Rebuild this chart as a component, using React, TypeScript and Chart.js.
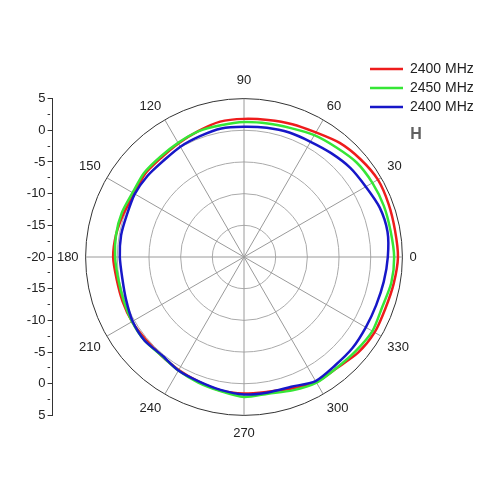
import { useEffect, useRef } from "react"
import { Chart, registerables } from "chart.js"

Chart.register(...registerables)
Chart.defaults.font.family = '"Liberation Sans", Arial, sans-serif'

// angle of each reading, degrees counter-clockwise from the right
const angles = [0, 10, 20, 30, 40, 50, 60, 70, 80, 90, 100, 110, 120, 130, 140, 150, 160, 170,
  180, 190, 200, 210, 220, 230, 240, 250, 260, 270, 280, 290, 300, 310, 320, 330, 340, 350]

// gain readings (dB), same order as angles
const red2400 = [4.3, 4.2, 4.3, 4.4, 4.0, 3.5, 2.7, 2.3, 1.95, 1.8, 1.7, 1.15, 0.7, 0.4, 0.4, 0.0, 0.2, 0.5,
  0.65, 0.4, 0.4, 0.4, 0.25, 0.3, 0.6, 0.95, 1.4, 1.55, 1.6, 2.1, 2.8, 2.85, 3.5, 3.8, 3.75, 4.0]
const green2450 = [3.7, 3.5, 3.5, 3.4, 3.2, 2.6, 2.2, 1.65, 1.4, 1.3, 1.1, 1.1, 0.8, 0.6, 0.6, 0.3, 0.5, 0.5,
  0.35, 0.15, 0.2, 0.4, 0.5, 0.3, 0.7, 1.1, 1.5, 2.1, 1.9, 2.4, 2.9, 2.8, 3.05, 3.4, 3.2, 3.6]
const blue2400 = [2.7, 3.0, 2.8, 2.2, 1.9, 1.4, 1.0, 0.9, 0.7, 0.55, 0.6, 0.3, 0.1, -0.2, -0.1, -0.1, -0.35, -0.3,
  -0.4, -0.5, -0.2, 0.3, 0.5, 0.2, 0.7, 0.9, 1.3, 1.7, 1.7, 1.8, 2.6, 2.35, 2.35, 2.2, 2.2, 2.4]

const seriesNames = ["2400 MHz", "2450 MHz", "2400 MHz"]
const seriesColors = ["#ee1c1c", "#36e636", "#1717c8"]
const labelStep = 30 // angles that get a spoke and a label
const radialMin = -20
const radialMax = 5
const planeMark = "H"

// the side axis is mirrored: -20 sits at the centre, 5 at both ends
const sideMin = radialMin - (radialMax - radialMin)
const sideMax = radialMax

export default function App() {
  const canvasRef = useRef<HTMLCanvasElement>(null)

  useEffect(() => {
    document.body.style.margin = "0"
    const canvas = canvasRef.current
    if (!canvas) return

    // radar goes clockwise, so run 0, 350, 340 ... 10
    const order = [0, ...angles.slice(1).map((_, i) => angles.length - 1 - i)]
    const pick = (values: number[]) => order.map((i) => values[i])
    const angleAt = (index: number) => angles[order[index]]

    const placePlugin = {
      id: "place",
      afterLayout(chart: any) {
        const r = chart.scales.r
        const y = chart.scales.y
        // stretch the side axis over the diameter of the plot
        y.top = r.yCenter - r.drawingArea
        y.bottom = r.yCenter + r.drawingArea
        y.height = y.bottom - y.top
        y.right = r.xCenter - r.drawingArea - 33
        y.left = y.right - y.width
        y.configure()
        y._gridLineItems = null
        y._labelItems = null
      },
      beforeDraw(chart: any) {
        const legend = chart.legend
        legend.left = 365
        legend.top = 57
        legend.right = 500
        legend.bottom = 200
        legend.width = legend.right - legend.left
        legend.height = legend.bottom - legend.top
      },
      afterDraw(chart: any) {
        const { ctx } = chart
        ctx.save()
        ctx.font = 'bold 16px "Liberation Sans", Arial, sans-serif'
        ctx.fillStyle = "#606060"
        ctx.textAlign = "center"
        ctx.textBaseline = "middle"
        ctx.fillText(planeMark, 416, 135)
        ctx.restore()
      },
    }

    const series = [red2400, green2450, blue2400]

    const chart = new Chart(canvas, {
      type: "radar",
      data: {
        labels: order.map((i) => String(angles[i])),
        datasets: series.map((values, k) => ({
          label: seriesNames[k],
          data: pick(values),
          borderColor: seriesColors[k],
          backgroundColor: seriesColors[k],
          borderWidth: 2.5,
          pointRadius: 0,
          pointHoverRadius: 0,
          fill: false,
          tension: 0.25,
          order: series.length - k,
        })),
      },
      options: {
        animation: false,
        responsive: false,
        events: [],
        layout: { padding: { top: 74, bottom: 58, left: 0, right: 75 } },
        scales: {
          r: {
            min: radialMin,
            max: radialMax,
            startAngle: 90,
            ticks: { display: false, stepSize: 5 },
            grid: {
              circular: true,
              color: (ctx: any) => (ctx.tick && ctx.tick.value === radialMax ? "#333333" : "#aaaaaa"),
              lineWidth: 1,
            },
            angleLines: {
              color: (ctx: any) => (angleAt(ctx.index) % labelStep === 0 ? "#9a9a9a" : "transparent"),
              lineWidth: 1,
            },
            pointLabels: {
              callback: (label: string, index: number) => (angleAt(index) % labelStep === 0 ? label : ""),
              padding: (ctx: any) => (angleAt(ctx.index) === 90 || angleAt(ctx.index) === 270 ? 10 : 7),
              font: { size: 13 },
              color: "#222222",
            },
          },
          y: {
            type: "linear",
            position: "left",
            min: sideMin,
            max: sideMax,
            afterFit: (scale: any) => {
              scale.width = 49
            },
            ticks: {
              stepSize: 2.5,
              autoSkip: false,
              padding: 2,
              font: { size: 13 },
              color: "#222222",
              callback: (value: any) => {
                const v = Number(value)
                if (v % 5 !== 0) return ""
                return String(v >= radialMin ? v : 2 * radialMin - v)
              },
            },
            grid: {
              drawOnChartArea: false,
              tickLength: 5,
              tickColor: "#333333",
              lineWidth: 1,
              tickBorderDash: (ctx: any) => (ctx.tick && ctx.tick.value % 5 === 0 ? [] : [2.5, 20]),
            },
            border: { color: "#333333", width: 1 },
          },
        },
        plugins: {
          tooltip: { enabled: false },
          legend: {
            position: "chartArea",
            fullSize: false,
            align: "start",
            labels: {
              usePointStyle: true,
              pointStyle: "line",
              pointStyleWidth: 33,
              padding: 5,
              color: "#222222",
              font: { size: 14 },
              sort: (a: any, b: any) => a.datasetIndex - b.datasetIndex,
            },
          },
        },
      } as any,
      plugins: [placePlugin],
    })

    return () => chart.destroy()
  }, [])

  return <canvas ref={canvasRef} width={500} height={500} style={{ display: "block" }} />
}
